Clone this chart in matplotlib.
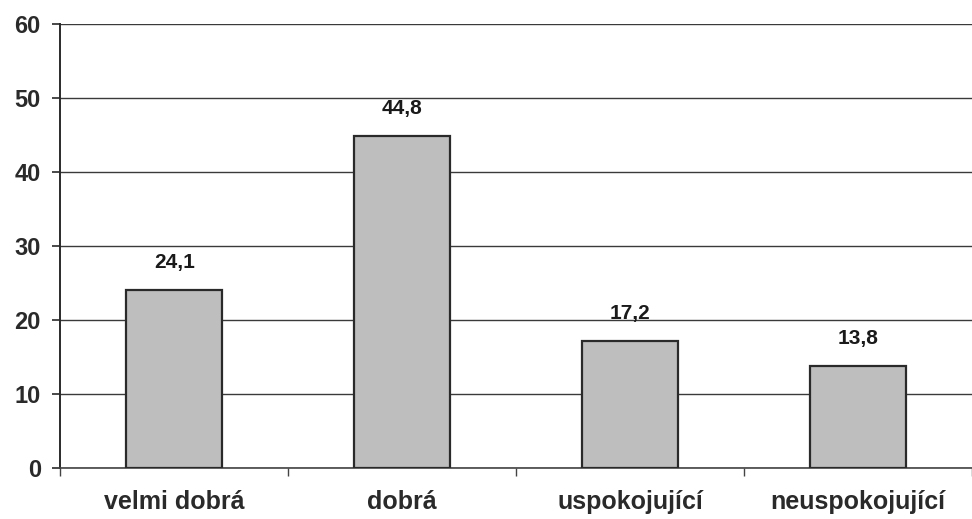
import matplotlib.pyplot as plt
import numpy as np

plt.rcParams['font.family'] = ['Liberation Sans', 'DejaVu Sans']

categories = ['velmi dobrá', 'dobrá', 'uspokojující', 'neuspokojující']
values = [24.1, 44.8, 17.2, 13.8]
labels = ['24,1', '44,8', '17,2', '13,8']
yticks = [0, 10, 20, 30, 40, 50, 60]

fig = plt.figure(figsize=(9.72, 5.19), dpi=100)
ax = fig.add_axes([0.062, 0.098, 0.938, 0.856])

x = np.arange(len(categories))
bars = ax.bar(x, values, width=0.42, color='#bebebe', edgecolor='#2a2a2a',
              linewidth=1.6, zorder=3)

for xi, v, lab in zip(x, values, labels):
    ax.annotate(lab, (xi, v), xytext=(0, 13), textcoords='offset points',
                ha='center', va='bottom', fontsize=15, fontweight='bold',
                color='#1a1a1a')

ax.set_xlim(-0.5, len(categories) - 0.5)
ax.set_ylim(0, 60)
ax.set_yticks(yticks)
ax.set_yticklabels([str(t) for t in yticks], fontsize=17, fontweight='bold',
                   color='#2a2a2a')
ax.yaxis.grid(True, color='#3a3a3a', linewidth=1.0, zorder=0)
ax.set_axisbelow(True)

# category labels centred, ticks at category boundaries
ax.set_xticks(x)
ax.set_xticklabels(categories, fontsize=18, fontweight='bold', color='#2a2a2a')
ax.tick_params(axis='x', length=0, pad=16)
ax.set_xticks(np.arange(len(categories) + 1) - 0.5, minor=True)
ax.tick_params(axis='x', which='minor', length=6, width=1, color='#444444')
ax.tick_params(axis='y', length=6, width=1.2, color='#2a2a2a', pad=8)

for s in ['top', 'right']:
    ax.spines[s].set_visible(False)
ax.spines['left'].set_color('#2a2a2a')
ax.spines['left'].set_linewidth(1.4)
ax.spines['bottom'].set_color('#444444')
ax.spines['bottom'].set_linewidth(1.2)

fig.savefig('out.png', dpi=100)
